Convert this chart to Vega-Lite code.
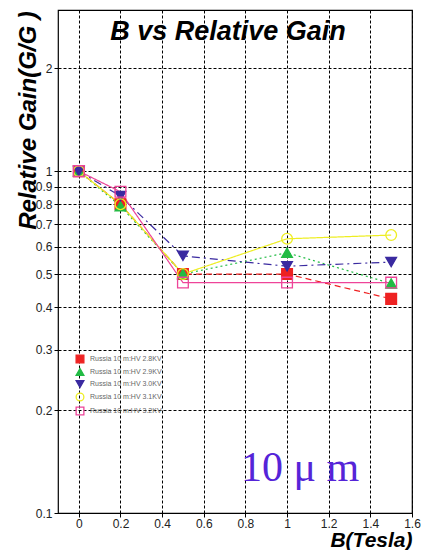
{
  "$schema": "https://vega.github.io/schema/vega-lite/v6.json",
  "autosize": "none",
  "width": 354,
  "height": 503,
  "padding": {"left": 58, "top": 10, "right": 9, "bottom": 37},
  "background": "white",
  "config": {
    "font": "Liberation Sans",
    "view": {"stroke": "black", "strokeWidth": 1.2},
    "axis": {
      "grid": true,
      "gridColor": "black",
      "gridDash": [3, 2],
      "gridWidth": 1,
      "gridOpacity": 1,
      "domain": false,
      "tickColor": "black",
      "labelColor": "#222",
      "labelFont": "Liberation Sans",
      "labelFontSize": 12
    },
    "legend": {
      "orient": "none",
      "legendX": 17,
      "legendY": 344,
      "padding": 0,
      "labelFontSize": 7,
      "labelColor": "#666",
      "symbolSize": 60,
      "symbolStrokeWidth": 1.3,
      "rowPadding": 0,
      "labelOffset": 5,
      "title": null
    }
  },
  "title": {
    "text": "B vs Relative Gain",
    "font": "Liberation Sans",
    "fontSize": 27,
    "fontWeight": "bold",
    "fontStyle": "italic",
    "anchor": "middle",
    "offset": -36,
    "dx": -7,
    "color": "black"
  },
  "datasets": {
    "gain": [
      {"B": 0, "G": 1.0, "s": "Russia 10  m:HV 2.8KV"},
      {"B": 0.2, "G": 0.80, "s": "Russia 10  m:HV 2.8KV"},
      {"B": 0.5, "G": 0.50, "s": "Russia 10  m:HV 2.8KV"},
      {"B": 1.0, "G": 0.50, "s": "Russia 10  m:HV 2.8KV"},
      {"B": 1.5, "G": 0.423, "s": "Russia 10  m:HV 2.8KV"},
      {"B": 0, "G": 1.0, "s": "Russia 10  m:HV 2.9KV"},
      {"B": 0.2, "G": 0.79, "s": "Russia 10  m:HV 2.9KV"},
      {"B": 0.5, "G": 0.50, "s": "Russia 10  m:HV 2.9KV"},
      {"B": 1.0, "G": 0.577, "s": "Russia 10  m:HV 2.9KV"},
      {"B": 1.5, "G": 0.469, "s": "Russia 10  m:HV 2.9KV"},
      {"B": 0, "G": 1.0, "s": "Russia 10  m:HV 3.0KV"},
      {"B": 0.2, "G": 0.845, "s": "Russia 10  m:HV 3.0KV"},
      {"B": 0.5, "G": 0.565, "s": "Russia 10  m:HV 3.0KV"},
      {"B": 1.0, "G": 0.527, "s": "Russia 10  m:HV 3.0KV"},
      {"B": 1.5, "G": 0.542, "s": "Russia 10  m:HV 3.0KV"},
      {"B": 0, "G": 1.0, "s": "Russia 10  m:HV 3.1KV"},
      {"B": 0.2, "G": 0.80, "s": "Russia 10  m:HV 3.1KV"},
      {"B": 0.5, "G": 0.50, "s": "Russia 10  m:HV 3.1KV"},
      {"B": 1.0, "G": 0.634, "s": "Russia 10  m:HV 3.1KV"},
      {"B": 1.5, "G": 0.65, "s": "Russia 10  m:HV 3.1KV"},
      {"B": 0, "G": 1.0, "s": "Russia 10  m:HV 3.2KV"},
      {"B": 0.2, "G": 0.87, "s": "Russia 10  m:HV 3.2KV"},
      {"B": 0.5, "G": 0.472, "s": "Russia 10  m:HV 3.2KV"},
      {"B": 1.0, "G": 0.472, "s": "Russia 10  m:HV 3.2KV"},
      {"B": 1.5, "G": 0.472, "s": "Russia 10  m:HV 3.2KV"}
    ],
    "note": [{"B": 1.062, "G": 0.124, "t": "10 μ m"}]
  },
  "encoding": {
    "x": {
      "field": "B", "type": "quantitative",
      "scale": {"domain": [-0.1, 1.6], "nice": false, "zero": false},
      "axis": {
        "values": [0, 0.2, 0.4, 0.6, 0.8, 1, 1.2, 1.4, 1.6],
        "format": "~g",
        "labelFontSize": 12,
        "tickSize": 4,
        "labelPadding": 1,
        "title": "B(Tesla)",
        "titleFont": "Liberation Sans",
        "titleFontSize": 21,
        "titleFontWeight": "bold",
        "titleFontStyle": "italic",
        "titleAnchor": "end",
        "titleAlign": "right",
        "titleBaseline": "alphabetic",
        "titleX": 354,
        "titleY": 33,
        "titleColor": "black",
        "labelFlush": false
      }
    },
    "y": {
      "field": "G", "type": "quantitative",
      "scale": {"type": "log", "domain": [0.1, 2.96], "nice": false},
      "axis": {
        "values": [0.1, 0.2, 0.3, 0.4, 0.5, 0.6, 0.7, 0.8, 0.9, 1, 2],
        "format": "~g",
        "labelFontSize": 12,
        "tickSize": 4,
        "labelPadding": 2,
        "title": "Relative Gain(G/G )",
        "titleFont": "Liberation Sans",
        "titleFontSize": 24,
        "titleFontWeight": "bold",
        "titleFontStyle": "italic",
        "titleAngle": -90,
        "titleAlign": "center",
        "titleBaseline": "middle",
        "titleX": -30,
        "titleY": 110,
        "titleColor": "black",
        "labelFlush": false
      }
    }
  },
  "layer": [
    {
      "data": {"name": "gain"},
      "mark": {"type": "line", "strokeWidth": 1.2},
      "encoding": {
        "color": {
          "field": "s", "type": "nominal", "legend": null,
          "scale": {"domain": ["Russia 10  m:HV 3.2KV", "Russia 10  m:HV 3.1KV", "Russia 10  m:HV 3.0KV", "Russia 10  m:HV 2.9KV", "Russia 10  m:HV 2.8KV"],
                    "range": ["#ee4499", "#eeee22", "#3a2aa0", "#22bb44", "#ee2222"]}
        },
        "strokeDash": {
          "field": "s", "type": "nominal", "legend": null,
          "scale": {"domain": ["Russia 10  m:HV 3.2KV", "Russia 10  m:HV 3.1KV", "Russia 10  m:HV 3.0KV", "Russia 10  m:HV 2.9KV", "Russia 10  m:HV 2.8KV"],
                    "range": [[1, 0], [1, 0], [8, 4, 2, 4], [2, 3], [6, 4]]}
        }
      }
    },
    {
      "data": {"name": "gain"},
      "mark": {"type": "point", "strokeWidth": 1.3, "opacity": 1},
      "encoding": {
        "size": {"value": 115},
        "shape": {
          "field": "s", "type": "nominal",
          "scale": {"domain": ["Russia 10  m:HV 2.8KV", "Russia 10  m:HV 2.9KV", "Russia 10  m:HV 3.0KV", "Russia 10  m:HV 3.1KV", "Russia 10  m:HV 3.2KV"],
                    "range": ["square", "triangle-up", "triangle-down", "circle", "square"]}
        },
        "stroke": {
          "field": "s", "type": "nominal",
          "scale": {"domain": ["Russia 10  m:HV 2.8KV", "Russia 10  m:HV 2.9KV", "Russia 10  m:HV 3.0KV", "Russia 10  m:HV 3.1KV", "Russia 10  m:HV 3.2KV"],
                    "range": ["#ee2222", "#22bb44", "#3a2aa0", "#eeee22", "#ee4499"]}
        },
        "fill": {
          "field": "s", "type": "nominal",
          "scale": {"domain": ["Russia 10  m:HV 2.8KV", "Russia 10  m:HV 2.9KV", "Russia 10  m:HV 3.0KV", "Russia 10  m:HV 3.1KV", "Russia 10  m:HV 3.2KV"],
                    "range": ["#ee2222", "#22bb44", "#3a2aa0", "#ffffff00", "#ffffff00"]}
        }
      }
    },
    {
      "data": {"name": "note"},
      "mark": {"type": "text", "font": "Liberation Serif", "fontSize": 42, "color": "#5524d8", "align": "center", "baseline": "alphabetic"},
      "encoding": {"text": {"field": "t"}}
    }
  ]
}
